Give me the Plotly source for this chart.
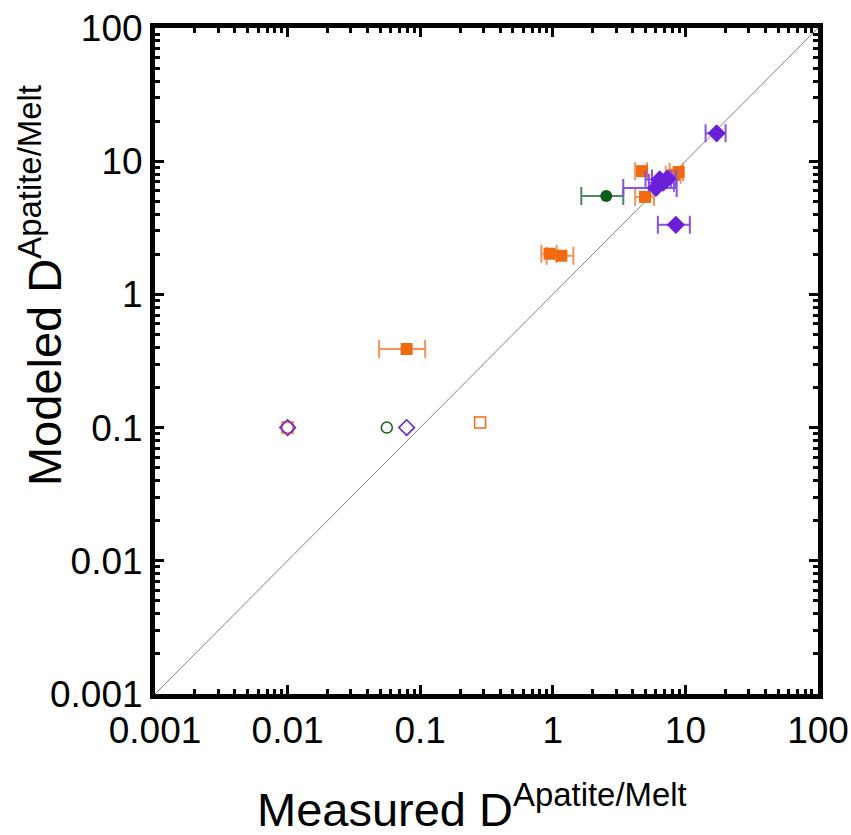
import plotly.graph_objects as go

# Filled orange squares (with horizontal error bars)
orange_x = [0.079, 0.946, 1.16, 4.71, 4.96, 8.2, 8.9]
orange_y = [0.389, 2.02, 1.95, 8.42, 5.39, 7.9, 8.3]
orange_xlo = [0.049, 0.82, 0.90, 4.18, 4.18, 7.1, 7.6]
orange_xhi = [0.109, 1.07, 1.43, 5.14, 5.8, 9.2, 9.6]

# Filled purple diamonds
purple_x = [17.2, 8.47, 6.0, 6.4, 7.3, 6.8]
purple_y = [16.2, 3.33, 6.3, 7.3, 7.4, 6.9]
purple_xlo = [14.2, 6.2, 3.4, 5.0, 5.6, 5.3]
purple_xhi = [20.1, 10.8, 8.6, 7.8, 8.5, 8.2]

# Filled green circle
green_x = [2.53]
green_y = [5.48]
green_xlo = [1.64]
green_xhi = [3.40]

# Open symbols
orange_open_x = [0.01, 0.283]
orange_open_y = [0.1, 0.109]
green_open_x = [0.056]
green_open_y = [0.1]
purple_open_x = [0.01, 0.079]
purple_open_y = [0.1, 0.1]

# 1:1 line
line_vals = [0.001, 100]

tick_vals = [0.001, 0.01, 0.1, 1, 10, 100]
tick_text = ["0.001", "0.01", "0.1", "1", "10", "100"]

x_title = "Measured D<sup>Apatite/Melt</sup>"
y_title = "Modeled D<sup>Apatite/Melt</sup>"

ORANGE = "#F26A10"
ORANGE_ERR = "#F5925A"
PURPLE = "#6A1ED8"
PURPLE_ERR = "#8A52E2"
GREEN = "#0B5E1E"
GREEN_ERR = "#4A8A5A"

FONT = "Liberation Sans, Arial"


def err(x, lo, hi):
    return dict(type="data", symmetric=False,
                array=[h - v for v, h in zip(x, hi)],
                arrayminus=[v - l for v, l in zip(x, lo)])


fig = go.Figure()
fig.add_trace(go.Scatter(x=line_vals, y=line_vals, mode="lines",
                         line=dict(color="#808080", width=1), hoverinfo="skip"))

fig.add_trace(go.Scatter(x=orange_open_x, y=orange_open_y, mode="markers",
                         marker=dict(symbol="square-open", size=11, color=ORANGE,
                                     line=dict(width=1.5, color=ORANGE))))
fig.add_trace(go.Scatter(x=green_open_x, y=green_open_y, mode="markers",
                         marker=dict(symbol="circle-open", size=11, color=GREEN,
                                     line=dict(width=1.5, color=GREEN))))
fig.add_trace(go.Scatter(x=purple_open_x, y=purple_open_y, mode="markers",
                         marker=dict(symbol="diamond-open", size=12, color=PURPLE,
                                     line=dict(width=1.5, color=PURPLE))))

e = err(orange_x, orange_xlo, orange_xhi)
e.update(color=ORANGE_ERR, thickness=2, width=9)
fig.add_trace(go.Scatter(x=orange_x, y=orange_y, mode="markers", error_x=e,
                         marker=dict(symbol="square", size=12, color=ORANGE)))

e = err(green_x, green_xlo, green_xhi)
e.update(color=GREEN_ERR, thickness=2, width=9)
fig.add_trace(go.Scatter(x=green_x, y=green_y, mode="markers", error_x=e,
                         marker=dict(symbol="circle", size=12, color=GREEN)))

e = err(purple_x, purple_xlo, purple_xhi)
e.update(color=PURPLE_ERR, thickness=2, width=9)
fig.add_trace(go.Scatter(x=purple_x, y=purple_y, mode="markers", error_x=e,
                         marker=dict(symbol="diamond", size=14, color=PURPLE)))

axis_common = dict(
    type="log", range=[-3, 2], tickvals=tick_vals, ticktext=tick_text,
    showline=True, linewidth=5, linecolor="black", mirror="allticks",
    ticks="inside", ticklen=9, tickwidth=3, tickcolor="black",
    minor=dict(ticks="inside", ticklen=5, tickwidth=3, tickcolor="black",
               dtick="D1", showgrid=False),
    showgrid=False, zeroline=False, automargin=False,
    tickfont=dict(family=FONT, size=37, color="black"),
)

fig.update_xaxes(**axis_common)
fig.update_yaxes(**axis_common)

fig.add_annotation(text=x_title, xref="paper", yref="paper",
                   x=0.478, y=-0.216, xanchor="center", yanchor="bottom",
                   showarrow=False, font=dict(family=FONT, size=47, color="black"))
fig.add_annotation(text=y_title, xref="paper", yref="paper",
                   x=-0.172, y=0.614, xanchor="center", yanchor="middle",
                   textangle=-90,
                   showarrow=False, font=dict(family=FONT, size=47, color="black"))

fig.update_layout(
    width=851, height=835, showlegend=False,
    paper_bgcolor="white", plot_bgcolor="white",
    margin=dict(l=155, r=33, t=28, b=141),
)

fig.write_html("out.html")
